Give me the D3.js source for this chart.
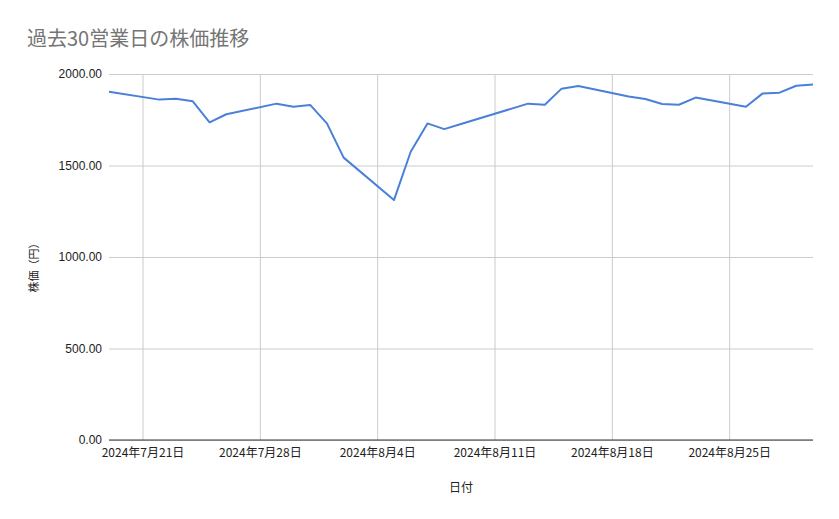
<!DOCTYPE html>
<html>
<head>
<meta charset="utf-8">
<script src="https://cdn.jsdelivr.net/npm/d3@7"></script>
<style>
  body { margin: 0; background: #fff; }
</style>
</head>
<body>
<div id="chart"></div>
<script>
const dates = [
  "2024-07-19",
  "2024-07-22", "2024-07-23", "2024-07-24", "2024-07-25", "2024-07-26",
  "2024-07-29", "2024-07-30", "2024-07-31", "2024-08-01", "2024-08-02",
  "2024-08-05", "2024-08-06", "2024-08-07", "2024-08-08", "2024-08-09",
  "2024-08-13", "2024-08-14", "2024-08-15", "2024-08-16",
  "2024-08-19", "2024-08-20", "2024-08-21", "2024-08-22", "2024-08-23",
  "2024-08-26", "2024-08-27", "2024-08-28", "2024-08-29", "2024-08-30"
];
const prices = [
  1903,
  1860, 1865, 1851, 1736, 1780,
  1838, 1821, 1831, 1730, 1543,
  1311, 1575, 1730, 1699, 1727,
  1838, 1832, 1920, 1934,
  1877, 1863, 1836, 1832, 1871,
  1821, 1894, 1898, 1936, 1942
];
const yTicks = [0, 500, 1000, 1500, 2000];
const xTickDates = ["2024-07-21", "2024-07-28", "2024-08-04", "2024-08-11", "2024-08-18", "2024-08-25"];
const xDomain = ["2024-07-19", "2024-08-30"];

const width = 839;
const height = 519;
const margin = { top: 74, right: 26, bottom: 79, left: 109 };

const parse = d3.timeParse("%Y-%m-%d");
const data = dates.map((d, i) => ({ date: parse(d), value: prices[i] }));

const svg = d3.select("#chart")
  .append("svg")
  .attr("width", width)
  .attr("height", height)
  .style("font-family", "Roboto, 'Noto Sans CJK JP', sans-serif");

const x = d3.scaleTime()
  .domain(xDomain.map(parse))
  .range([margin.left, width - margin.right]);

const y = d3.scaleLinear()
  .domain([0, 2000])
  .range([height - margin.bottom, margin.top]);

// title
svg.append("text")
  .attr("x", 27)
  .attr("y", 46)
  .attr("font-size", "20px")
  .attr("fill", "#757575")
  .style("font-family", "'Noto Sans CJK JP', sans-serif")
  .text("過去30営業日の株価推移");

// vertical grid
svg.append("g")
  .attr("transform", `translate(0,${height - margin.bottom})`)
  .call(d3.axisBottom(x)
    .tickValues(xTickDates.map(parse))
    .tickSize(-(height - margin.top - margin.bottom))
    .tickFormat(d => `${d.getFullYear()}年${d.getMonth() + 1}月${d.getDate()}日`))
  .call(g => g.select(".domain").remove())
  .call(g => g.selectAll("line").attr("stroke", "#cccccc"))
  .call(g => g.selectAll("text")
    .attr("y", 8)
    .attr("fill", "#222")
    .attr("font-size", "12px")
    .attr("dy", "0.71em")
    .style("font-family", "'Noto Sans CJK JP', sans-serif"));

// horizontal grid + y labels
svg.append("g")
  .attr("transform", `translate(${margin.left},0)`)
  .call(d3.axisLeft(y)
    .tickValues(yTicks)
    .tickSize(-(width - margin.left - margin.right))
    .tickPadding(7)
    .tickFormat(d3.format(".2f")))
  .call(g => g.select(".domain").remove())
  .call(g => g.selectAll("line").attr("stroke", "#cccccc"))
  .call(g => g.selectAll("text").attr("fill", "#222").attr("font-size", "12px"));

// baseline
svg.append("line")
  .attr("x1", margin.left)
  .attr("x2", width - margin.right)
  .attr("y1", y(0))
  .attr("y2", y(0))
  .attr("stroke", "#333")
  .attr("stroke-width", 1);

// axis titles
svg.append("text")
  .attr("x", (margin.left + width - margin.right) / 2)
  .attr("y", 492)
  .attr("text-anchor", "middle")
  .attr("font-size", "12px")
  .attr("fill", "#222")
  .style("font-family", "'Noto Sans CJK JP', sans-serif")
  .text("日付");

svg.append("text")
  .attr("transform", `translate(38,${(margin.top + height - margin.bottom) / 2 + 8}) rotate(-90)`)
  .attr("text-anchor", "middle")
  .attr("font-size", "11px")
  .attr("fill", "#222")
  .style("font-family", "'Noto Sans CJK JP', sans-serif")
  .text("株価（円）");

// line
const line = d3.line()
  .x(d => x(d.date))
  .y(d => y(d.value));

svg.append("path")
  .datum(data)
  .attr("fill", "none")
  .attr("stroke", "#4a80d9")
  .attr("stroke-width", 2)
  .attr("stroke-linejoin", "round")
  .attr("d", line);
</script>
</body>
</html>
